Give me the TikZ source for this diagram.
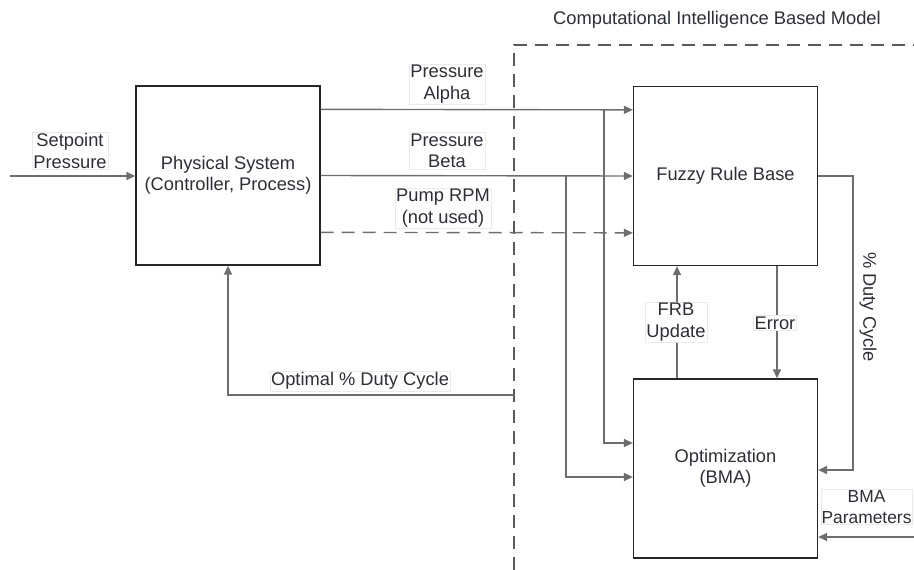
\documentclass[tikz,border=0pt]{standalone}
\usepackage{fontspec}
\setmainfont{Liberation Sans}
\usetikzlibrary{arrows.meta}
\definecolor{ln}{HTML}{6E6E6E}
\definecolor{tx}{HTML}{2E2E38}
\begin{document}
\begin{tikzpicture}[x=1pt,y=-1pt,
  every node/.style={text=tx,font=\fontsize{18.3}{21.5}\selectfont},
  blk/.style={draw=black!85,line width=1.3pt,fill=white,minimum width=184pt,minimum height=179pt,inner sep=0pt,align=center},
  lbl/.style={fill=white,draw=black!8,line width=0.4pt,inner sep=1.2pt,align=center},
  arr/.style={draw=ln,line width=1.4pt,-{Triangle[length=9pt,width=8pt]}},
  bnd/.style={draw=black!65,line width=1.4pt,dash pattern=on 13pt off 8pt}]
\useasboundingbox (0,0) rectangle (914,570);
% boundary
\draw[bnd] (514,570) -- (514,45) -- (914,45);
\node (title) at (717,20) {Computational Intelligence Based Model};
% blocks
\node[blk] (phys) at (228,175.5) {Physical System\\(Controller, Process)};
\node[blk] (frb) at (725.5,176) {Fuzzy Rule Base};
\node[blk] (opt) at (725.5,468.5) {Optimization\\(BMA)};
% coordinates
\coordinate (sp) at (10,176);
\coordinate (ba) at (604,110);
\coordinate (bb) at (566,176);
\coordinate (bm) at (914,537);
\coordinate (od) at (514,395);
% connectors
\draw[arr] (sp) -- (sp -| phys.west);
\draw[arr] ([yshift=-24pt]phys.north east) -- ([yshift=-24pt]frb.north west);
\draw[arr] (phys.east) -- (frb.west);
\draw[arr,dash pattern=on 13pt off 8pt] ([yshift=-147pt]phys.north east) -- ([yshift=-147pt]frb.north west);
\draw[arr] (ba) |- ([yshift=25.5pt]opt.west);
\draw[arr] (bb) |- ([yshift=-8.5pt]opt.west);
\draw[arr] ([xshift=-48.5pt]opt.north) -- ([xshift=-48.5pt]frb.south);
\draw[arr] ([xshift=51.5pt]frb.south) -- ([xshift=51.5pt]opt.north);
\draw[arr] (frb.east) -- ++(35,0) |- ([yshift=-1.5pt]opt.east);
\draw[arr] (bm) -- (bm -| opt.east);
\draw[arr] (od) -| (phys.south);
% labels
\node[lbl] (lsp) at (70,151) {Setpoint\\Pressure};
\node[lbl] (la) at (447,84) {Pressure\\Alpha};
\node[lbl] (lb) at (447,151) {Pressure\\Beta};
\node[lbl] (lp) at (443,208) {Pump RPM\\(not used)};
\node[lbl] (lf) at (676,322) {FRB\\Update};
\node[lbl] (le) at (775,323) {Error};
\node[rotate=-90] (ld) at (868,307) {\% Duty Cycle};
\node[lbl,inner sep=0.8pt,font=\fontsize{17.4}{21.5}\selectfont] (lbma) at (866.5,507) {BMA\\Parameters};
\node[lbl] (lo) at (360,381) {Optimal \% Duty Cycle};
\end{tikzpicture}
\end{document}
